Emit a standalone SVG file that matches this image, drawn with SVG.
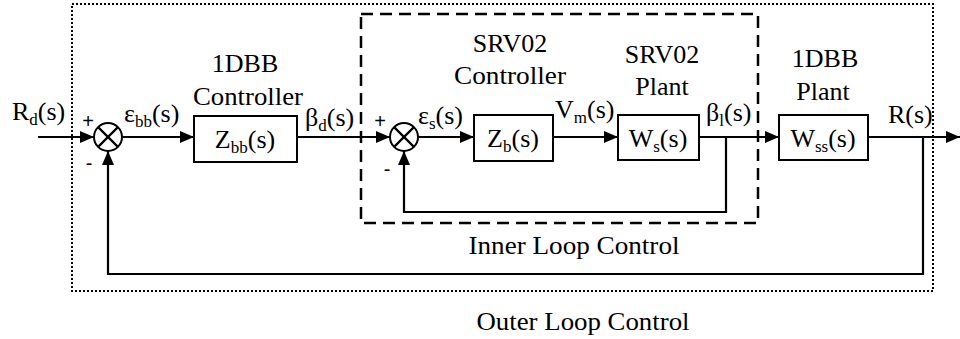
<svg xmlns="http://www.w3.org/2000/svg" width="960" height="339" viewBox="0 0 960 339" font-family="'Liberation Serif', 'Times New Roman', serif">
<style>
text{font-family:'Liberation Serif','Times New Roman',serif;font-size:26px;fill:#000}
.sub{font-size:17px}
.blk{fill:#fff;stroke:#000;stroke-width:2}
.sum{fill:#fff;stroke:#000;stroke-width:2}
.wire{fill:none;stroke:#000;stroke-width:2.2}
text.sign{font-family:'Liberation Sans',Arial,sans-serif;font-size:20px}
</style>
<defs>
<marker id="ah" markerWidth="14" markerHeight="12" refX="14" refY="6" orient="auto" markerUnits="userSpaceOnUse">
<path d="M0,0 L14,6 L0,12 Z" fill="#000"/>
</marker>
</defs>
<rect width="960" height="339" fill="#fff"/>

<g id="outer-frame">
<rect x="72" y="4" width="861" height="287" fill="none" stroke="#000" stroke-width="2" stroke-dasharray="2,2"/>
<text x="583" y="330" text-anchor="middle" textLength="213" lengthAdjust="spacingAndGlyphs">Outer Loop Control</text>
</g>
<g id="inner-frame">
<rect x="361" y="14" width="397" height="209" fill="none" stroke="#000" stroke-width="2.5" stroke-dasharray="12,7"/>
<text x="574" y="254" text-anchor="middle" textLength="211" lengthAdjust="spacingAndGlyphs">Inner Loop Control</text>
</g>

<g id="connectors">
<line class="wire" x1="38" y1="137" x2="94" y2="137" marker-end="url(#ah)"/>
<line class="wire" x1="122" y1="137" x2="194" y2="137" marker-end="url(#ah)"/>
<line class="wire" x1="297" y1="137" x2="390" y2="137" marker-end="url(#ah)"/>
<line class="wire" x1="418" y1="137" x2="474" y2="137" marker-end="url(#ah)"/>
<line class="wire" x1="553" y1="137" x2="618" y2="137" marker-end="url(#ah)"/>
<line class="wire" x1="699" y1="137" x2="779" y2="137" marker-end="url(#ah)"/>
<line class="wire" x1="868" y1="137" x2="960" y2="137" marker-end="url(#ah)"/>
<polyline class="wire" points="726,137 726,212 404,212 404,151" marker-end="url(#ah)"/>
<polyline class="wire" points="923,137 923,274 108,274 108,151" marker-end="url(#ah)"/>
</g>

<g id="sum1">
<circle class="sum" cx="108" cy="137" r="14"/>
<line class="wire" x1="98.1" y1="127.1" x2="117.9" y2="146.9"/>
<line class="wire" x1="117.9" y1="127.1" x2="98.1" y2="146.9"/>
<text class="sign" x="88" y="128" text-anchor="middle">+</text>
<text class="sign" x="89" y="170" text-anchor="middle">-</text>
</g>
<g id="sum2">
<circle class="sum" cx="404" cy="137" r="14"/>
<line class="wire" x1="394.1" y1="127.1" x2="413.9" y2="146.9"/>
<line class="wire" x1="413.9" y1="127.1" x2="394.1" y2="146.9"/>
<text class="sign" x="380" y="128" text-anchor="middle">+</text>
<text class="sign" x="387" y="176" text-anchor="middle">-</text>
</g>

<g id="Zbb">
<rect class="blk" x="194" y="116" width="103" height="46"/>
<text x="245" y="148" text-anchor="middle">Z<tspan class="sub" dy="5">bb</tspan><tspan dy="-5">(s)</tspan></text>
<text x="245" y="72" text-anchor="middle">1DBB</text>
<text x="248" y="105" text-anchor="middle" textLength="110" lengthAdjust="spacingAndGlyphs">Controller</text>
</g>
<g id="Zb">
<rect class="blk" x="474" y="115" width="79" height="46"/>
<text x="513" y="147" text-anchor="middle">Z<tspan class="sub" dy="5">b</tspan><tspan dy="-5">(s)</tspan></text>
<text x="510" y="52" text-anchor="middle">SRV02</text>
<text x="510" y="84" text-anchor="middle" textLength="112" lengthAdjust="spacingAndGlyphs">Controller</text>
</g>
<g id="Ws">
<rect class="blk" x="618" y="115" width="81" height="45"/>
<text x="658" y="147" text-anchor="middle">W<tspan class="sub" dy="5">s</tspan><tspan dy="-5">(s)</tspan></text>
<text x="662" y="63" text-anchor="middle">SRV02</text>
<text x="662" y="95" text-anchor="middle">Plant</text>
</g>
<g id="Wss">
<rect class="blk" x="779" y="115" width="89" height="45"/>
<text x="823" y="147" text-anchor="middle">W<tspan class="sub" dy="5">ss</tspan><tspan dy="-5">(s)</tspan></text>
<text x="825" y="67" text-anchor="middle">1DBB</text>
<text x="823" y="100" text-anchor="middle">Plant</text>
</g>

<g id="signals">
<text x="12" y="120">R<tspan class="sub" dy="5">d</tspan><tspan dy="-5">(s)</tspan></text>
<text x="124" y="122">ε<tspan class="sub" dy="5">bb</tspan><tspan dy="-5">(s)</tspan></text>
<text x="305" y="126">β<tspan class="sub" dy="5">d</tspan><tspan dy="-5">(s)</tspan></text>
<text x="418" y="124">ε<tspan class="sub" dy="5">s</tspan><tspan dy="-5">(s)</tspan></text>
<text x="555" y="118">V<tspan class="sub" dy="5">m</tspan><tspan dy="-5">(s)</tspan></text>
<text x="706" y="121">β<tspan class="sub" dy="5">l</tspan><tspan dy="-5">(s)</tspan></text>
<text x="888" y="123">R(s)</text>
</g>
</svg>
